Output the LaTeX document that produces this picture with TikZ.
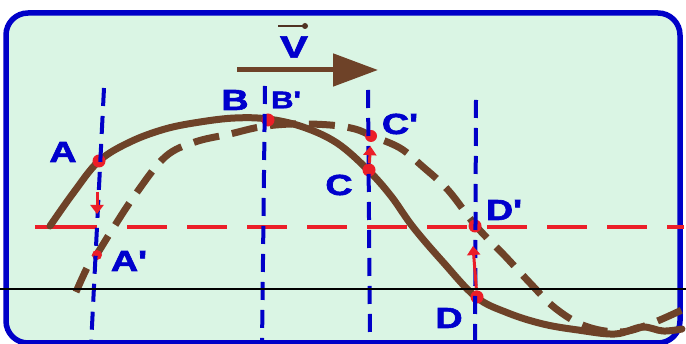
\documentclass[tikz,border=0pt]{standalone}
\usepackage{fontspec}
\setmainfont{Liberation Sans}
\newfontfamily\lblfont[FakeBold=2]{Liberation Sans Bold}
\usetikzlibrary{arrows.meta}
\definecolor{bgc}{RGB}{218,245,228}
\definecolor{frameblue}{RGB}{0,0,200}
\definecolor{lblue}{RGB}{0,0,205}
\definecolor{brownc}{RGB}{110,66,40}
\definecolor{darkbr}{RGB}{80,50,35}
\definecolor{redc}{RGB}{235,30,40}
\begin{document}
\begin{tikzpicture}[x=1pt,y=-1pt,
 lbl/.style={text=lblue,font=\fontsize{29}{29}\lblfont,inner sep=0pt,xscale=1.3},
 lbls/.style={text=lblue,font=\fontsize{24}{24}\lblfont,inner sep=0pt,xscale=1.3},
 dot/.style={circle,fill=redc,minimum size=13pt,inner sep=0pt},
 vline/.style={frameblue,line width=4pt,dash pattern=on 18pt off 10pt},
 hline/.style={redc,line width=3.5pt},
 wave/.style={brownc,line width=7pt,line cap=round},
 redarrow/.style={redc,line width=3pt,-{Triangle[length=9pt,width=13pt]}},
]
\useasboundingbox (0,0) rectangle (686,344);
\clip (0,0) rectangle (686,344);
\fill[white] (0,0) rectangle (686,344);
\draw[frameblue,line width=5.5pt,fill=bgc,rounded corners=22pt] (6,13) rectangle (680,343);

% red horizontal line
\coordinate (h1) at (35,227);
\coordinate (h2) at (97,227);
\coordinate (h3) at (127,227);
\coordinate (h4) at (684,227);
\draw[hline] (h1) -- (h2);
\draw[hline,dash pattern=on 40pt off 20pt] (h3) -- (h4);

% brown waves
\draw[wave] plot[smooth,tension=0.6] coordinates {(50,226) (74,192) (99,161) (130,142) (165,129) (200,122) (235,118) (268,119) (303,127) (337,143) (368,170) (391,196) (413,227) (443,262) (476,297) (508,313) (543,324) (578,330) (615,334) (642,327) (663,331) (682,329)};
\draw[wave,line cap=butt,dash pattern=on 26pt off 13pt] plot[smooth,tension=0.6] coordinates {(76,292) (88,266) (97,254) (112,230) (135,195) (165,157) (195,142) (230,134) (260,127) (292,124) (330,125) (355,129) (372,136) (400,148) (422,166) (448,190) (476,226) (505,256) (530,283) (555,308) (585,326) (620,332) (650,324) (684,309)};

% red dots
\node[dot] (A) at (99,161) {};
\node[dot,minimum size=10pt] (Ap) at (97,255) {};
\node[dot] (B) at (268,120) {};
\node[dot] (C) at (369,170) {};
\node[dot,minimum size=12pt] (Cp) at (371,136) {};
\node[dot] (Dp) at (475,226) {};
\node[dot] (D) at (477,297) {};

% blue vertical dashed lines
\coordinate (va1) at (104,88); \coordinate (va2) at (91,346);
\coordinate (vb1) at (265,86); \coordinate (vb2) at (262,346);
\coordinate (vc1) at (368,90); \coordinate (vc2) at (370,346);
\coordinate (vd1) at (476,100); \coordinate (vd2) at (475,346);
\draw[vline] (va1) -- (va2);
\draw[vline] (vb1) -- (vb2);
\draw[vline] (vc1) -- (vc2);
\draw[vline] (vd1) -- (vd2);

% red arrows
\coordinate (a1) at (97,192); \coordinate (a2) at (97,214);
\draw[redarrow] (a1) -- (a2);
\draw[redarrow,shorten >=4pt] (C) -- (Cp);
\coordinate (d2) at (473,246);
\draw[redarrow] (D) -- (d2);

% velocity arrow
\coordinate (vs) at (237,70);
\coordinate (ve) at (378,70);
\draw[brownc,line width=5pt,-{Triangle[length=45pt,width=32pt]}] (vs) -- (ve);
\node[text=lblue,font=\fontsize{31}{31}\lblfont,inner sep=0pt,xscale=1.35] (V) at (294,47) {V};
\coordinate (vv1) at (278,26); \coordinate (vv2) at (305,26);
\draw[darkbr,line width=2.5pt] (vv1) -- (vv2);
\fill[darkbr] (vv2) circle (3pt);

% labels
\node[lbl] (lA) at (63,152) {A};
\node[lbl] (lAp) at (129,261) {A'};
\node[lbl] (lB) at (235,100) {B};
\node[lbls] (lBp) at (286,100) {B'};
\node[lbl] (lCp) at (400,124) {C'};
\node[lbl] (lC) at (339,185) {C};
\node[lbl] (lDp) at (504,210) {D'};
\node[lbl] (lD) at (449,318) {D};

% thin black line
\coordinate (k1) at (0,289); \coordinate (k2) at (686,289);
\draw[black,line width=1.2pt] (k1) -- (k2);
\end{tikzpicture}
\end{document}
